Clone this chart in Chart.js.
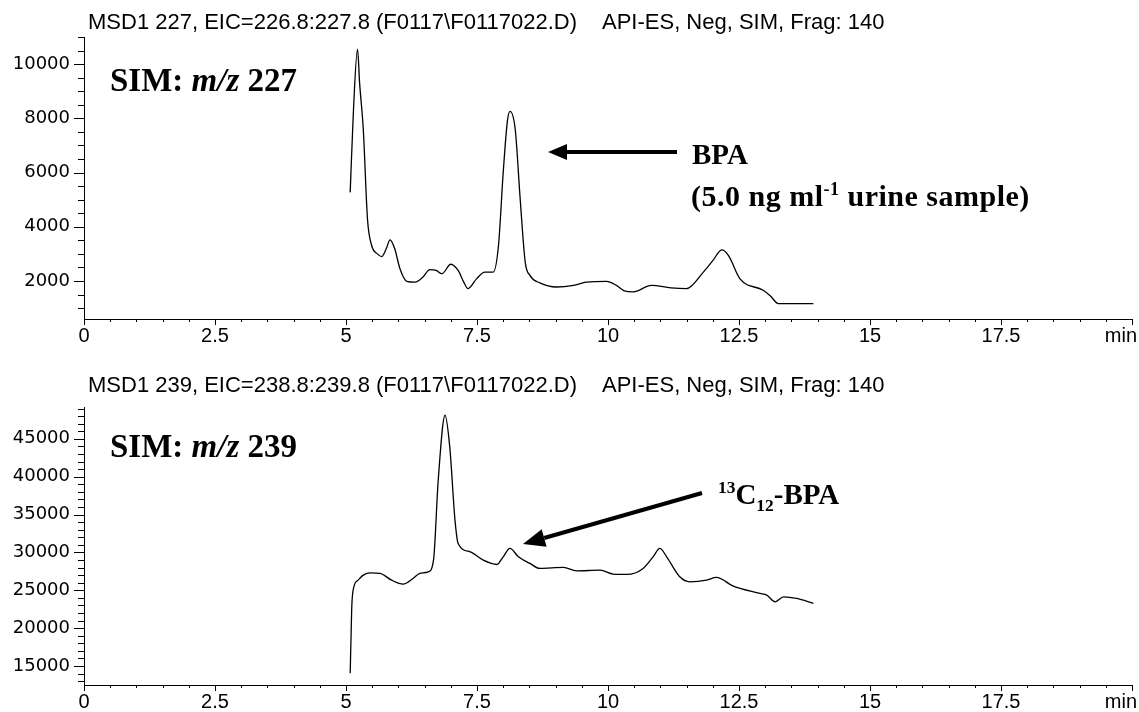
<!DOCTYPE html>
<html>
<head>
<meta charset="utf-8">
<script src="https://cdn.jsdelivr.net/npm/chart.js@4.4.1/dist/chart.umd.min.js"></script>
<style>
  html, body { margin: 0; padding: 0; background: #fff; }
  #page { position: relative; width: 1139px; height: 712px; overflow: hidden; background: #fff; }
  canvas { position: absolute; left: 0; }
  .t { position: absolute; white-space: nowrap; line-height: 1; color: #000; }
  .hdr { font-family: 'Liberation Sans', Arial, sans-serif; font-size: 22px; }
  .ser { font-family: 'Liberation Serif', 'Times New Roman', serif; font-weight: bold; }
  sup, sub { font-size: 60%; line-height: 0; }
</style>
</head>
<body>
<div id="page">
  <canvas id="c1" width="1139" height="356" style="top:0"></canvas>
  <canvas id="c2" width="1139" height="356" style="top:356px"></canvas>

  <div class="t hdr" style="left:88px; top:11px">MSD1 227, EIC=226.8:227.8 (F0117\F0117022.D)</div>
  <div class="t hdr" style="left:602px; top:11px">API-ES, Neg, SIM, Frag: 140</div>
  <div class="t hdr" style="left:88px; top:374px">MSD1 239, EIC=238.8:239.8 (F0117\F0117022.D)</div>
  <div class="t hdr" style="left:602px; top:374px">API-ES, Neg, SIM, Frag: 140</div>

  <div class="t ser" style="left:110px; top:64px; font-size:33px">SIM: <i>m/z</i> 227</div>
  <div class="t ser" style="left:110px; top:430px; font-size:33px">SIM: <i>m/z</i> 239</div>
  <div class="t ser" style="left:692px; top:140px; font-size:29px">BPA</div>
  <div class="t ser" style="left:691px; top:181px; font-size:30px; letter-spacing:0.5px">(5.0 ng ml<sup>-1</sup> urine sample)</div>
  <div class="t ser" style="left:718px; top:480px; font-size:29px"><sup>13</sup>C<sub>12</sub>-BPA</div>
</div>
<script>
// ---- data ----
const times227 = [5.08, 5.14, 5.22, 5.26, 5.33, 5.41, 5.49, 5.60, 5.68, 5.77, 5.84, 5.93, 6.03, 6.16, 6.32, 6.47, 6.60, 6.72, 6.83, 7.00, 7.14, 7.25, 7.33, 7.49, 7.65, 7.81, 7.91, 8.00, 8.08, 8.13, 8.23, 8.32, 8.42, 8.51, 8.70, 9.02, 9.34, 9.59, 9.97, 10.16, 10.30, 10.48, 10.83, 11.20, 11.50, 11.82, 12.00, 12.17, 12.30, 12.52, 12.96, 13.10, 13.25, 13.92];
const values227 = [5270, 8200, 10550, 9300, 7590, 4290, 3310, 3000, 2900, 3200, 3520, 3190, 2450, 1990, 1960, 2150, 2420, 2390, 2270, 2620, 2390, 1950, 1720, 2080, 2330, 2330, 3310, 6000, 7900, 8260, 7590, 5140, 2700, 2210, 1930, 1780, 1840, 1960, 1990, 1840, 1650, 1600, 1840, 1750, 1720, 2330, 2750, 3150, 2940, 2080, 1660, 1450, 1170, 1170];

const times239 = [5.08, 5.10, 5.11, 5.15, 5.23, 5.33, 5.46, 5.65, 5.87, 6.09, 6.28, 6.41, 6.57, 6.67, 6.76, 6.89, 6.98, 7.08, 7.14, 7.37, 7.62, 7.88, 8.00, 8.13, 8.29, 8.51, 8.70, 9.15, 9.40, 9.85, 10.10, 10.36, 10.67, 10.86, 10.99, 11.12, 11.37, 11.56, 11.88, 12.07, 12.39, 12.90, 13.03, 13.19, 13.35, 13.60, 13.92];
const values239 = [14040, 20000, 22820, 25460, 26340, 27000, 27310, 27230, 26340, 25820, 26570, 27230, 27440, 28980, 39530, 48110, 43930, 34260, 31180, 30080, 28980, 28410, 29420, 30530, 29420, 28550, 27890, 28020, 27570, 27660, 27140, 27100, 27890, 29420, 30530, 29420, 26780, 26120, 26340, 26700, 25550, 24590, 24360, 23480, 24140, 23930, 23270];

const xTickValues = [0, 2.5, 5, 7.5, 10, 12.5, 15, 17.5, 20];
const xTickLabels = ['0', '2.5', '5', '7.5', '10', '12.5', '15', '17.5', 'min'];

const yTop = { min: 600, max: 11000, minor: 500, major: 2000 };
const yBot = { min: 12500, max: 49200, minor: 1000, major: 5000 };

function pts(xs, ys) { return xs.map((x, i) => ({ x: x, y: ys[i] })); }

function axisPlugin(arrow) {
  return {
    id: 'axisExtras',
    afterDraw(chart) {
      const ctx = chart.ctx, xs = chart.scales.x, ys = chart.scales.y, ca = chart.chartArea;
      ctx.save();
      ctx.strokeStyle = '#000';
      ctx.lineWidth = 1;
      // y tick marks
      ys.ticks.forEach(t => {
        const y = Math.round(ys.getPixelForValue(t.value)) + 0.5;
        const len = t.label !== '' ? 10 : 6;
        ctx.beginPath(); ctx.moveTo(ca.left - len, y); ctx.lineTo(ca.left, y); ctx.stroke();
      });
      // x tick marks
      for (let v = 0; v <= 20.001; v += 0.5) {
        const x = Math.round(xs.getPixelForValue(v)) + 0.5;
        const major = Math.abs(v / 2.5 - Math.round(v / 2.5)) < 1e-6;
        const len = major ? 6 : 3;
        ctx.beginPath(); ctx.moveTo(x, ca.bottom); ctx.lineTo(x, ca.bottom + len); ctx.stroke();
      }
      // x labels
      ctx.fillStyle = '#000';
      ctx.font = '20px "Liberation Sans", Arial, sans-serif';
      ctx.textBaseline = 'top';
      xTickValues.forEach((v, i) => {
        const x = xs.getPixelForValue(v);
        if (i === xTickValues.length - 1) { ctx.textAlign = 'right'; ctx.fillText(xTickLabels[i], x + 5, ca.bottom + 7); }
        else { ctx.textAlign = 'center'; ctx.fillText(xTickLabels[i], x, ca.bottom + 7); }
      });
      // arrow annotation
      if (arrow) {
        const [x1, y1, x2, y2, hl, hw] = arrow;
        const a = Math.atan2(y2 - y1, x2 - x1);
        const bx = x2 - hl * Math.cos(a), by = y2 - hl * Math.sin(a);
        ctx.lineWidth = 4;
        ctx.beginPath(); ctx.moveTo(x1, y1); ctx.lineTo(bx, by); ctx.stroke();
        ctx.beginPath();
        ctx.moveTo(x2, y2);
        ctx.lineTo(bx + hw * Math.sin(a), by - hw * Math.cos(a));
        ctx.lineTo(bx - hw * Math.sin(a), by + hw * Math.cos(a));
        ctx.closePath(); ctx.fill();
      }
      ctx.restore();
    }
  };
}

function makeChart(id, xs, ys, yr, pad, arrow) {
  return new Chart(document.getElementById(id), {
    type: 'line',
    data: { datasets: [{ data: pts(xs, ys), borderColor: '#000', borderWidth: 1.3, pointRadius: 0, fill: false, tension: 0.4, cubicInterpolationMode: 'monotone' }] },
    options: {
      responsive: false, animation: false, devicePixelRatio: 1,
      layout: { padding: pad },
      plugins: { legend: { display: false }, tooltip: { enabled: false } },
      scales: {
        x: {
          type: 'linear', min: 0, max: 20,
          ticks: { display: false },
          grid: { display: false, drawTicks: false },
          border: { display: true, color: '#000', width: 1 },
          afterFit(s) { s.height = 0; }
        },
        y: {
          min: yr.min, max: yr.max,
          afterBuildTicks(s) {
            const t = [];
            for (let v = Math.ceil(yr.min / yr.minor) * yr.minor; v <= yr.max; v += yr.minor) t.push({ value: v });
            s.ticks = t;
          },
          ticks: {
            autoSkip: false, padding: 14, color: '#000',
            font: { family: '"DejaVu Sans", sans-serif', size: 18 },
            callback: v => (v % yr.major === 0 ? String(v) : '')
          },
          grid: { display: false, drawTicks: false },
          border: { display: true, color: '#000', width: 1 },
          afterFit(s) { s.width = 84; }
        }
      }
    },
    plugins: [axisPlugin(arrow)]
  });
}

makeChart('c1', times227, values227, yTop, { top: 37, bottom: 37, left: 0, right: 7 }, [677, 152, 548, 152, 19, 8]);
makeChart('c2', times239, values239, yBot, { top: 51, bottom: 27, left: 0, right: 7 }, [702, 137, 523, 188, 22, 9]);
</script>
</body>
</html>
